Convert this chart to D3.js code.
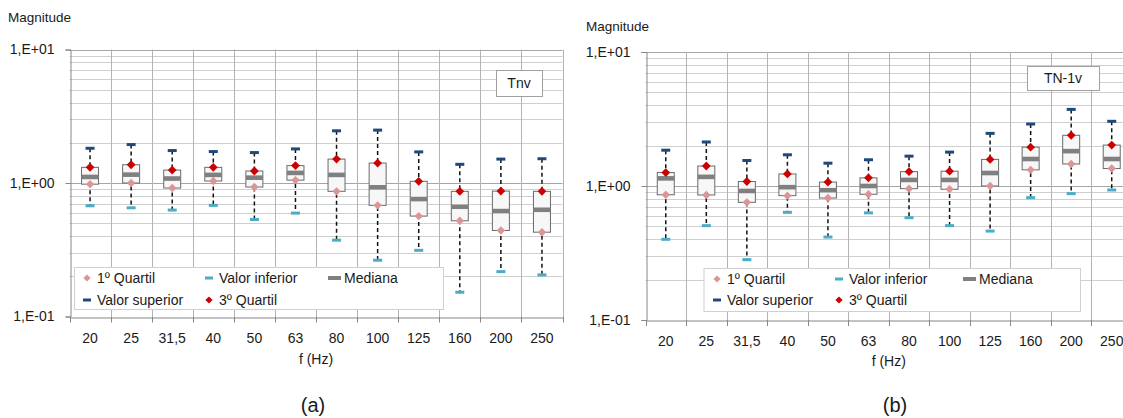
<!DOCTYPE html>
<html><head><meta charset="utf-8">
<script src="https://cdn.jsdelivr.net/npm/d3@7"></script>
<style>
html,body{margin:0;padding:0;background:#fff;}
text{font-family:"Liberation Sans",Arial,sans-serif;fill:#1a1a1a;}
</style></head>
<body>
<svg id="chart" width="1123" height="418"></svg>
<script>
// ---------- DATA ----------
const categories = ["20","25","31,5","40","50","63","80","100","125","160","200","250"];

// (a) Tnv
const tnvUpper  = [1.82,1.94,1.75,1.72,1.69,1.80,2.46,2.49,1.71,1.38,1.51,1.52];
const tnvQ3     = [1.31,1.37,1.25,1.31,1.23,1.35,1.51,1.41,1.03,0.866,0.87,0.866];
const tnvMedian = [1.11,1.155,1.08,1.15,1.096,1.19,1.15,0.928,0.758,0.664,0.616,0.63];
const tnvQ1     = [0.98,1.00,0.917,1.035,0.933,1.05,0.866,0.68,0.565,0.521,0.441,0.428];
const tnvLower  = [0.675,0.652,0.627,0.68,0.533,0.595,0.373,0.264,0.313,0.152,0.217,0.205];

// (b) TN-1v
const tn1vUpper  = [1.85,2.13,1.55,1.71,1.48,1.57,1.67,1.79,2.47,2.90,3.73,3.04];
const tn1vQ3     = [1.26,1.41,1.08,1.23,1.07,1.15,1.28,1.29,1.58,1.95,2.39,2.02];
const tn1vMedian = [1.14,1.17,0.918,0.98,0.93,1.00,1.11,1.11,1.25,1.59,1.82,1.59];
const tn1vQ1     = [0.86,0.857,0.755,0.847,0.813,0.867,0.955,0.945,1.00,1.32,1.46,1.35];
const tn1vLower  = [0.40,0.506,0.282,0.636,0.416,0.63,0.58,0.506,0.461,0.818,0.877,0.934];

const yTickValues = [0.1, 1, 10];
const yTickLabels = ["1,E-01", "1,E+00", "1,E+01"];
const minorGrid = [0.2,0.3,0.4,0.5,0.6,0.7,0.8,0.9,2,3,4,5,6,7,8,9];
const legendRows = [["1º Quartil","Valor inferior","Mediana"],["Valor superior","3º Quartil"]];

// ---------- STYLE ----------
const COL = {q1:"#d99694", lower:"#4bacc6", median:"#808080", upper:"#1f497d", q3:"#cc0000"};
const legendKind = {"1º Quartil":"q1","Valor inferior":"lower","Mediana":"median","Valor superior":"upper","3º Quartil":"q3"};

const svg = d3.select("#chart");

function diamond(r){ return `M0,${-r}L${r},0L0,${r}L${-r},0Z`; }

function drawChart(cfg){
  const {x0,x1,yTop,yBot,title,tag,tagBox,legend,data,xLabelY,fLabelY,panelLabel,panelY,magX,magY} = cfg;
  const g = svg.append("g");
  const x = d3.scaleBand().domain(categories).range([x0,x1]).padding(0);
  const y = d3.scaleLog().domain([0.1,10]).range([yBot,yTop]);

  // minor gridlines
  g.selectAll(".minor").data(minorGrid).join("line")
    .attr("x1",x0).attr("x2",x1)
    .attr("y1",d=>Math.round(y(d))+0.5).attr("y2",d=>Math.round(y(d))+0.5)
    .attr("stroke","#cfcfcf").attr("stroke-width",1);
  // major gridlines
  g.selectAll(".major").data([1,10]).join("line")
    .attr("x1",x0).attr("x2",x1)
    .attr("y1",d=>Math.round(y(d))+0.5).attr("y2",d=>Math.round(y(d))+0.5)
    .attr("stroke","#a6a6a6").attr("stroke-width",1);
  // vertical gridlines at category boundaries
  const bounds = categories.slice(1).map(c=>x(c)).concat([x1]);
  g.selectAll(".vg").data(bounds).join("line")
    .attr("x1",d=>Math.round(d)+0.5).attr("x2",d=>Math.round(d)+0.5)
    .attr("y1",y(10)).attr("y2",y(0.1))
    .attr("stroke","#b3b3b3").attr("stroke-width",1);

  // y axis
  const ya = g.append("g").attr("transform",`translate(${Math.round(x0)+0.5},0)`)
    .call(d3.axisLeft(y).tickValues(yTickValues)
      .tickFormat((d,i)=>yTickLabels[yTickValues.indexOf(d)]).tickSize(5).tickPadding(11));
  ya.select(".domain").attr("stroke","#868686");
  ya.selectAll(".tick line").attr("stroke","#868686");
  ya.selectAll(".tick text").attr("font-size","14px").attr("font-family","Liberation Sans, Arial, sans-serif").attr("fill","#1a1a1a");

  // x axis
  const xa = g.append("g").attr("transform",`translate(0,${Math.round(y(0.1))+0.5})`)
    .call(d3.axisBottom(x).tickSize(0).tickPadding(16));
  xa.select(".domain").attr("stroke","#868686");
  xa.selectAll(".tick text").attr("font-size","14px").attr("font-family","Liberation Sans, Arial, sans-serif").attr("fill","#1a1a1a");
  const xb = [x0].concat(bounds);
  g.selectAll(".xt").data(xb).join("line")
    .attr("x1",d=>Math.round(d)+0.5).attr("x2",d=>Math.round(d)+0.5)
    .attr("y1",y(0.1)).attr("y2",y(0.1)+6)
    .attr("stroke","#868686");

  const bw = x.bandwidth();
  const cx = c => x(c)+bw/2;
  const rows = categories.map((c,i)=>({c, up:data.upper[i], q3:data.q3[i], med:data.median[i], q1:data.q1[i], lo:data.lower[i]}));

  // whiskers
  g.selectAll(".wh").data(rows).join("line")
    .attr("x1",d=>cx(d.c)).attr("x2",d=>cx(d.c))
    .attr("y1",d=>y(d.up)).attr("y2",d=>y(d.lo))
    .attr("stroke","#111").attr("stroke-width",1.5).attr("stroke-dasharray","4,3");
  // boxes
  const boxW = 17;
  g.selectAll(".bx").data(rows).join("rect")
    .attr("x",d=>cx(d.c)-boxW/2).attr("width",boxW)
    .attr("y",d=>y(d.q3)).attr("height",d=>y(d.q1)-y(d.q3))
    .attr("fill","#f7f7f7").attr("stroke","#6a6a6a").attr("stroke-width",1);
  // median
  g.selectAll(".md").data(rows).join("rect")
    .attr("x",d=>cx(d.c)-boxW/2).attr("width",boxW)
    .attr("y",d=>y(d.med)-2.3).attr("height",4.6)
    .attr("fill",COL.median);
  // caps
  g.selectAll(".up").data(rows).join("rect")
    .attr("x",d=>cx(d.c)-4.5).attr("width",9)
    .attr("y",d=>y(d.up)-1.5).attr("height",3)
    .attr("fill",COL.upper);
  g.selectAll(".lo").data(rows).join("rect")
    .attr("x",d=>cx(d.c)-4.5).attr("width",9)
    .attr("y",d=>y(d.lo)-1.5).attr("height",3)
    .attr("fill",COL.lower);
  // quartile diamonds
  g.selectAll(".q1").data(rows).join("path")
    .attr("d",diamond(4.2))
    .attr("transform",d=>`translate(${cx(d.c)},${y(d.q1)})`)
    .attr("fill",COL.q1);
  g.selectAll(".q3").data(rows).join("path")
    .attr("d",diamond(4.4))
    .attr("transform",d=>`translate(${cx(d.c)},${y(d.q3)})`)
    .attr("fill",COL.q3);

  // tag box
  g.append("rect").attr("x",tagBox[0]+0.5).attr("y",tagBox[1]+0.5).attr("width",tagBox[2]).attr("height",tagBox[3])
    .attr("fill","#fff").attr("stroke","#a0a0a0");
  g.append("text").attr("x",tagBox[0]+tagBox[2]/2).attr("y",tagBox[1]+tagBox[3]/2+5)
    .attr("text-anchor","middle").attr("font-size","14px").text(tag);

  // legend
  const L = legend;
  g.append("rect").attr("x",L.x+0.5).attr("y",L.y+0.5).attr("width",L.w).attr("height",L.h)
    .attr("fill","#fff").attr("stroke","#d0d0d0");
  legendRows.forEach((row,ri)=>{
    row.forEach((name,ci)=>{
      const tx = L.x + L.cols[ci];
      const ty = L.y + L.rowY[ri];
      const kind = legendKind[name];
      if(kind==="q1"||kind==="q3"){
        g.append("path").attr("d",diamond(3.6)).attr("transform",`translate(${tx-10},${ty})`).attr("fill",COL[kind]);
      } else if(kind==="median"){
        g.append("rect").attr("x",tx-16).attr("y",ty-2).attr("width",13).attr("height",4).attr("fill",COL.median);
      } else {
        g.append("rect").attr("x",tx-14).attr("y",ty-1.5).attr("width",8).attr("height",3).attr("fill",COL[kind]);
      }
      g.append("text").attr("x",tx).attr("y",ty+5).attr("font-size","14px").text(name);
    });
  });

  // titles
  g.append("text").attr("x",magX).attr("y",magY).attr("font-size","13.5px").text(title);
  g.append("text").attr("x",(x0+x1)/2).attr("y",fLabelY).attr("text-anchor","middle").attr("font-size","14px").text("f (Hz)");
  g.append("text").attr("x",panelLabel[0]).attr("y",panelY).attr("text-anchor","middle").attr("font-size","20px").text(panelLabel[1]);
}

drawChart({
  x0:69.5, x1:562.5, yTop:49.5, yBot:316.5,
  title:"Magnitude", magX:8, magY:22,
  tag:"Tnv", tagBox:[496,70,46,26],
  legend:{x:74,y:267,w:369,h:42,cols:[23,145,270],rowY:[11,33]},
  data:{upper:tnvUpper,q3:tnvQ3,median:tnvMedian,q1:tnvQ1,lower:tnvLower},
  fLabelY:364, panelLabel:[313,"(a)"], panelY:412
});
drawChart({
  x0:645.5, x1:1132, yTop:52, yBot:320,
  title:"Magnitude", magX:586, magY:31,
  tag:"TN-1v", tagBox:[1027,66,72,24],
  legend:{x:703.5,y:268,w:376.5,h:43,cols:[23.5,145.5,275.5],rowY:[11,32]},
  data:{upper:tn1vUpper,q3:tn1vQ3,median:tn1vMedian,q1:tn1vQ1,lower:tn1vLower},
  fLabelY:366, panelLabel:[895,"(b)"], panelY:412
});
</script>
</body></html>
